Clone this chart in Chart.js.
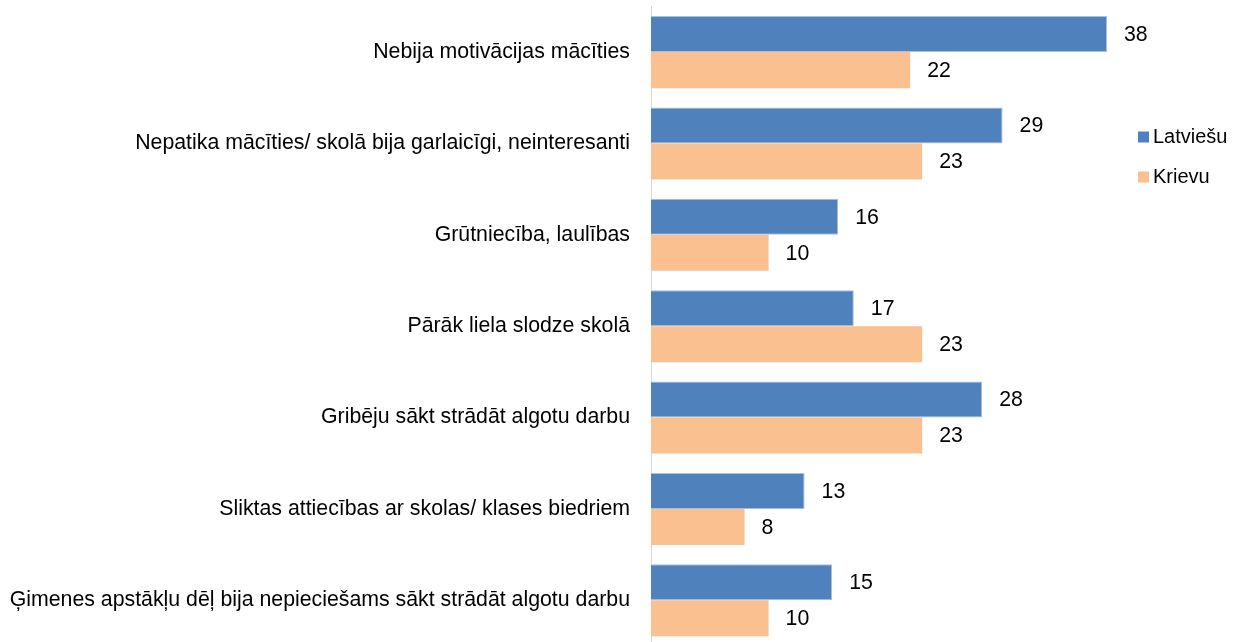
<!DOCTYPE html>
<html>
<head>
<meta charset="utf-8">
<script src="https://cdn.jsdelivr.net/npm/chart.js@4"></script>
<style>
html,body{margin:0;padding:0;background:#fff;overflow:hidden;}
#wrap{width:1236px;height:646px;}
</style>
</head>
<body>
<div id="wrap"><canvas id="c" width="1236" height="646"></canvas></div>
<script>
const categories = [
  "Nebija motivācijas mācīties",
  "Nepatika mācīties/ skolā bija garlaicīgi, neinteresanti",
  "Grūtniecība, laulības",
  "Pārāk liela slodze skolā",
  "Gribēju sākt strādāt algotu darbu",
  "Sliktas attiecības ar skolas/ klases biedriem",
  "Ģimenes apstākļu dēļ bija nepieciešams sākt strādāt algotu darbu"
];
const seriesNames = ["Latviešu", "Krievu"];
const latviesu = [38.0, 29.3, 15.6, 16.9, 27.6, 12.8, 15.1];
const krievu   = [21.6, 22.6, 9.8, 22.6, 22.6, 7.8, 9.8];

const FONT = '"Liberation Sans", Arial, sans-serif';

const valueLabels = {
  id: 'valueLabels',
  afterDatasetsDraw(chart) {
    const ctx = chart.ctx;
    ctx.save();
    ctx.font = '21.3px ' + FONT;
    ctx.fillStyle = '#000';
    ctx.textAlign = 'left';
    ctx.textBaseline = 'middle';
    chart.data.datasets.forEach((ds, i) => {
      const meta = chart.getDatasetMeta(i);
      meta.data.forEach((el, j) => {
        ctx.fillText(String(Math.round(ds.data[j])), el.x + 17, el.y + 1);
      });
    });
    ctx.restore();
  }
};

const customLegend = {
  id: 'customLegend',
  afterDraw(chart) {
    const ctx = chart.ctx;
    ctx.save();
    ctx.font = '20px ' + FONT;
    ctx.textAlign = 'left';
    ctx.textBaseline = 'middle';
    chart.data.datasets.forEach((ds, i) => {
      const cy = 137 + i * 40;
      ctx.fillStyle = ds.backgroundColor;
      ctx.fillRect(1138, cy - 5.5, 11, 11);
      ctx.fillStyle = '#000';
      ctx.fillText(ds.label, 1153, cy);
    });
    ctx.restore();
  }
};

new Chart(document.getElementById('c'), {
  type: 'bar',
  data: {
    labels: categories,
    datasets: [
      { label: seriesNames[0], data: latviesu, backgroundColor: '#4F81BD', borderColor: '#A7C0DE', borderWidth: {top:1,right:1,bottom:1,left:0}, borderSkipped: 'left' },
      { label: seriesNames[1], data: krievu, backgroundColor: '#FAC090', borderWidth: 0 }
    ]
  },
  options: {
    indexAxis: 'y',
    responsive: false,
    animation: false,
    devicePixelRatio: 1,
    layout: { padding: { left: 0, right: 105, top: 6.4, bottom: 0 } },
    plugins: { legend: { display: false }, tooltip: { enabled: false } },
    datasets: { bar: { categoryPercentage: 0.789, barPercentage: 1.0 } },
    scales: {
      x: { display: false, min: 0, max: 40 },
      y: {
        afterFit(scale) { scale.width = 651; scale.paddingTop = 0; scale.paddingBottom = 0; },
        grid: { display: false, drawTicks: false },
        border: { display: true, color: '#D9D9D9', width: 1 },
        ticks: { color: '#000', font: { family: FONT, size: 21.3 }, padding: 21, autoSkip: false }
      }
    }
  },
  plugins: [valueLabels, customLegend]
});
</script>
</body>
</html>
